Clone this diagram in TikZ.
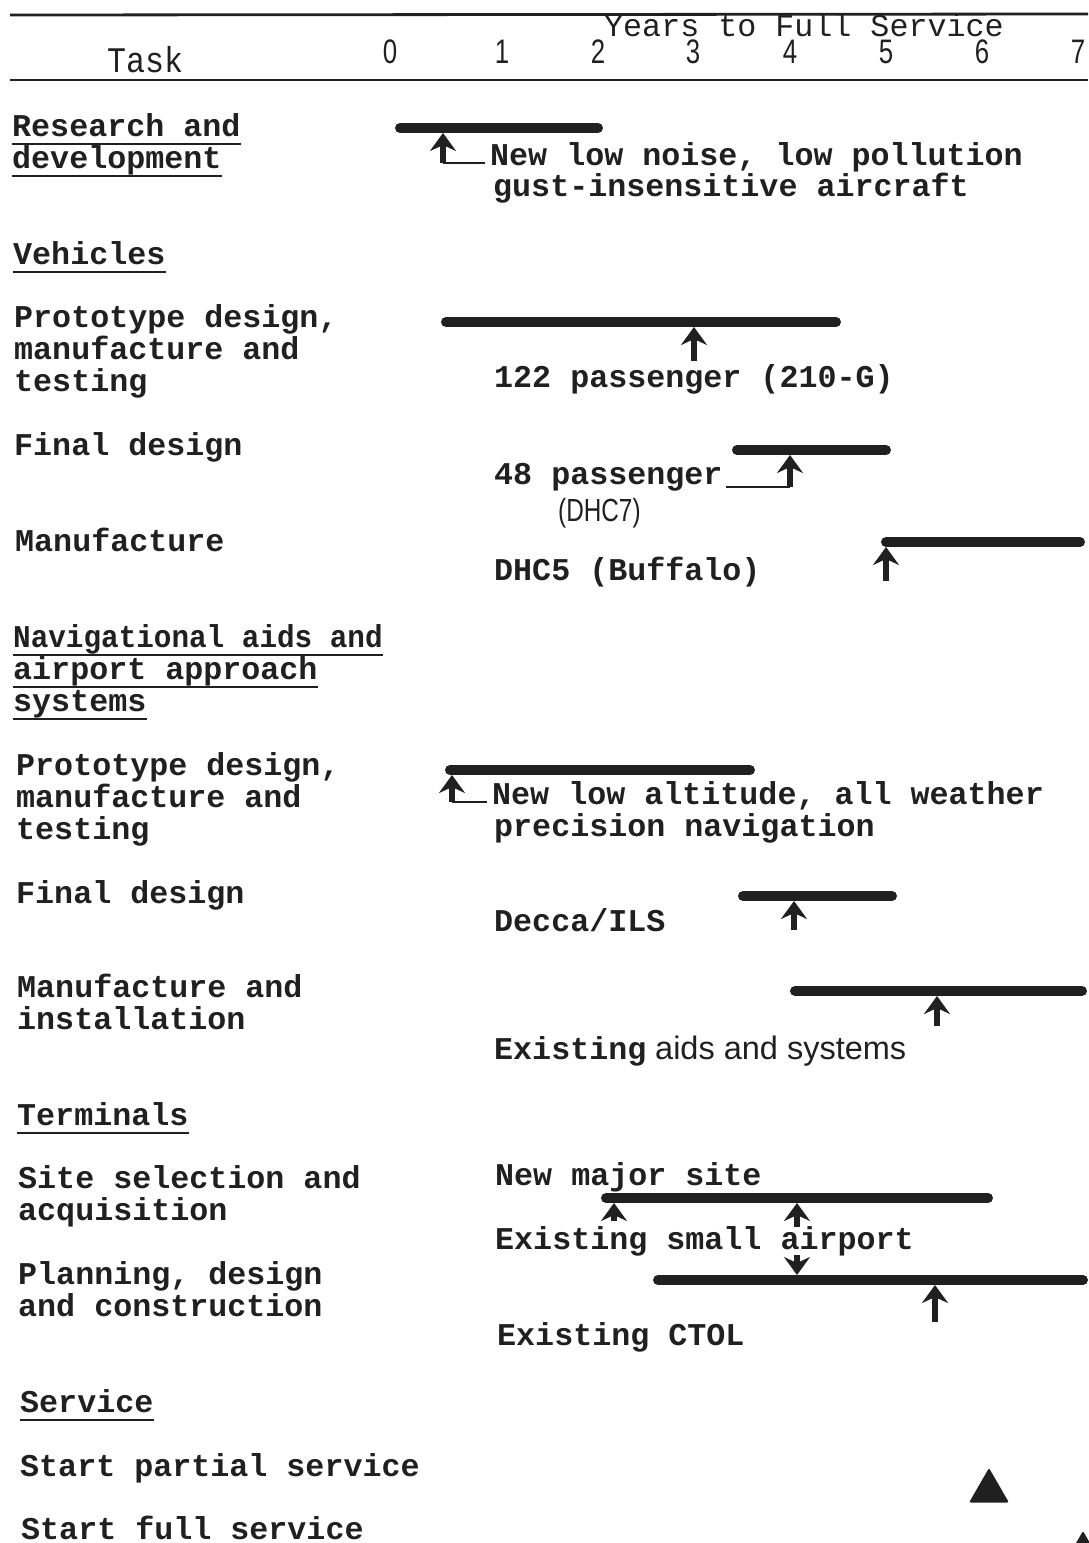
\documentclass[tikz,border=0pt]{standalone}
\usepackage{fontspec}
\setmainfont{Liberation Mono}
\newfontfamily\headfont{Liberation Mono}[FakeStretch=0.88]
\newfontfamily\narrowfont{Liberation Sans}[FakeStretch=0.76]
\newfontfamily\plainsans{Liberation Sans}
\usetikzlibrary{arrows.meta,shapes.geometric,calc}
\definecolor{ink}{HTML}{202020}

\tikzset{
  lbl/.style={inner sep=0pt, anchor=base west, text=ink,
    font=\fontsize{31.7}{32}\selectfont\bfseries},
  hd/.style={inner sep=0pt, anchor=base, text=ink,
    font=\headfont\fontsize{36}{36}\selectfont},
  digit/.style={inner sep=0pt, anchor=base, text=ink,
    font=\narrowfont\fontsize{34}{34}\selectfont},
  sanslbl/.style={inner sep=0pt, anchor=base west, text=ink,
    font=\narrowfont\fontsize{32}{32}\selectfont},
  bar/.style={draw=ink, line width=10pt, line cap=round},
  pointer/.style={draw=ink, line width=5.5pt,
    -{Stealth[length=18pt,width=26pt,inset=6pt]}},
  leader/.style={draw=ink, line width=1.5pt},
  uline/.style={draw=ink, line width=2.5pt},
  rulebar/.style={draw=ink, line width=2.8pt},
  milestone/.style={regular polygon, regular polygon sides=3, fill=ink,
    draw=ink, line width=2pt, line join=round,
    minimum size=42pt, inner sep=0pt}
}

\begin{document}
\begin{tikzpicture}[x=1pt, y=-1pt]
\useasboundingbox (0,0) rectangle (1088,1543);

% ---------- header ----------
\coordinate (topL) at (10,15);   \coordinate (topR) at (1088,14);
\coordinate (botL) at (10,80);   \coordinate (botR) at (1088,80);
\draw[rulebar] (topL) -- (topR);
\draw[rulebar] (botL) -- (botR);
\node[hd, anchor=base west] (task) at (107,72) {Task};
\node[lbl, font=\fontsize{31.7}{32}\selectfont] (years) at (604,36) {Years to Full Service};
\foreach \n/\xx in {0/390,1/502,2/598,3/693,4/790,5/886,6/982,7/1078}
  \node[digit] (yr\n) at (\xx,63) {\n};

% ---------- task column ----------
\node[lbl] (rd1)  at (12,136)  {Research and};
\node[lbl] (rd2)  at (12,168)  {development};
\node[lbl] (veh)  at (13,264)  {Vehicles};
\node[lbl] (vp1)  at (14,327)  {Prototype design,};
\node[lbl] (vp2)  at (14,359)  {manufacture and};
\node[lbl] (vp3)  at (14,391)  {testing};
\node[lbl] (vfd)  at (14,455)  {Final design};
\node[lbl] (vmf)  at (15,551)  {Manufacture};
\node[lbl] (nav1) at (13,647)  {\scalebox{0.925}[1]{Navigational aids and}};
\node[lbl] (nav2) at (13,679)  {airport approach};
\node[lbl] (nav3) at (13,711)  {systems};
\node[lbl] (np1)  at (16,775)  {Prototype design,};
\node[lbl] (np2)  at (16,807)  {manufacture and};
\node[lbl] (np3)  at (16,839)  {testing};
\node[lbl] (nfd)  at (16,903)  {Final design};
\node[lbl] (nmi1) at (17,997)  {Manufacture and};
\node[lbl] (nmi2) at (17,1029) {installation};
\node[lbl] (term) at (17,1125) {Terminals};
\node[lbl] (ss1)  at (18,1188) {Site selection and};
\node[lbl] (ss2)  at (18,1220) {acquisition};
\node[lbl] (pd1)  at (18,1284) {Planning, design};
\node[lbl] (pd2)  at (18,1316) {and construction};
\node[lbl] (serv) at (20,1412) {Service};
\node[lbl] (sp)   at (20,1476) {Start partial service};
\node[lbl] (sf)   at (21,1539) {Start full service};

% underlined headings
\foreach \h in {rd1,rd2,veh,nav1,nav2,nav3,term,serv}
  \draw[uline] ($(\h.base west)+(0,8)$) -- ($(\h.base east)+(0,8)$);

% ---------- schedule notes ----------
\node[lbl] (rdn1) at (490,165)  {New low noise, low pollution};
\node[lbl] (rdn2) at (493,196)  {gust-insensitive aircraft};
\node[lbl] (vpn)  at (494,387)  {122 passenger (210-G)};
\node[lbl] (vfn1) at (494,484)  {48 passenger};
\node[sanslbl] (vfn2) at (558,521) {(DHC7)};
\node[lbl] (vmn)  at (494,580)  {DHC5 (Buffalo)};
\node[lbl] (npn1) at (492,804)  {New low altitude, all weather};
\node[lbl] (npn2) at (494,836)  {precision navigation};
\node[lbl] (nfn)  at (494,931)  {Decca/ILS};
\node[lbl] (nmn1) at (494,1059) {Existing};
\node[sanslbl, font=\plainsans\fontsize{32.5}{32}\selectfont] (nmn2) at (655,1059) {aids and systems};
\node[lbl] (ssn1) at (495,1185) {New major site};
\node[lbl] (ssn2) at (495,1249) {Existing small airport};
\node[lbl] (pdn)  at (497,1345) {Existing CTOL};

% ---------- bars ----------
\coordinate (rdA) at (400,128);  \coordinate (rdB) at (598,128);
\coordinate (vpA) at (446,322);  \coordinate (vpB) at (836,322);
\coordinate (vfA) at (737,450);  \coordinate (vfB) at (886,450);
\coordinate (vmA) at (886,542);  \coordinate (vmB) at (1080,542);
\coordinate (npA) at (450,770);  \coordinate (npB) at (750,770);
\coordinate (nfA) at (743,896);  \coordinate (nfB) at (892,896);
\coordinate (nmA) at (795,991);  \coordinate (nmB) at (1082,991);
\coordinate (ssA) at (606,1198); \coordinate (ssB) at (988,1198);
\coordinate (pdA) at (658,1280); \coordinate (pdB) at (1083,1280);
\foreach \b in {rd,vp,vf,vm,np,nf,nm,ss,pd}
  \draw[bar] (\b A) -- (\b B);

% ---------- pointers ----------
\coordinate (rdF) at (443,163);   \coordinate (rdT) at (443,133);
\coordinate (vpF) at (694,361);   \coordinate (vpT) at (694,327);
\coordinate (vfF) at (790,487);   \coordinate (vfT) at (790,455);
\coordinate (vmF) at (886,581);   \coordinate (vmT) at (886,547);
\coordinate (npF) at (452,802);   \coordinate (npT) at (452,775);
\coordinate (nfF) at (794,930);   \coordinate (nfT) at (794,901);
\coordinate (nmF) at (937,1026);  \coordinate (nmT) at (937,996);
\coordinate (s1F) at (614,1221);  \coordinate (s1T) at (614,1203);
\coordinate (s2F) at (797,1227);  \coordinate (s2T) at (797,1203);
\coordinate (p1F) at (797,1255);  \coordinate (p1T) at (797,1275);
\coordinate (p2F) at (935,1322);  \coordinate (p2T) at (935,1285);
\foreach \p in {rd,vp,vf,vm,np,nf,nm,s1,s2,p1,p2}
  \draw[pointer] (\p F) -- (\p T);

% leaders from notes to pointers
\draw[leader] (rdF) -- ($(rdn1.west |- rdF)+(-5,0)$);
\draw[leader] ($(vfn1.east |- vfF)+(3,0)$) -- (vfF);
\draw[leader] (npF) -- ($(npn1.west |- npF)+(-5,0)$);

% ---------- service milestones ----------
\node[milestone] (partial) at (989,1491) {};
\node[milestone] (full) at (1083,1554) {};
\end{tikzpicture}
\end{document}
